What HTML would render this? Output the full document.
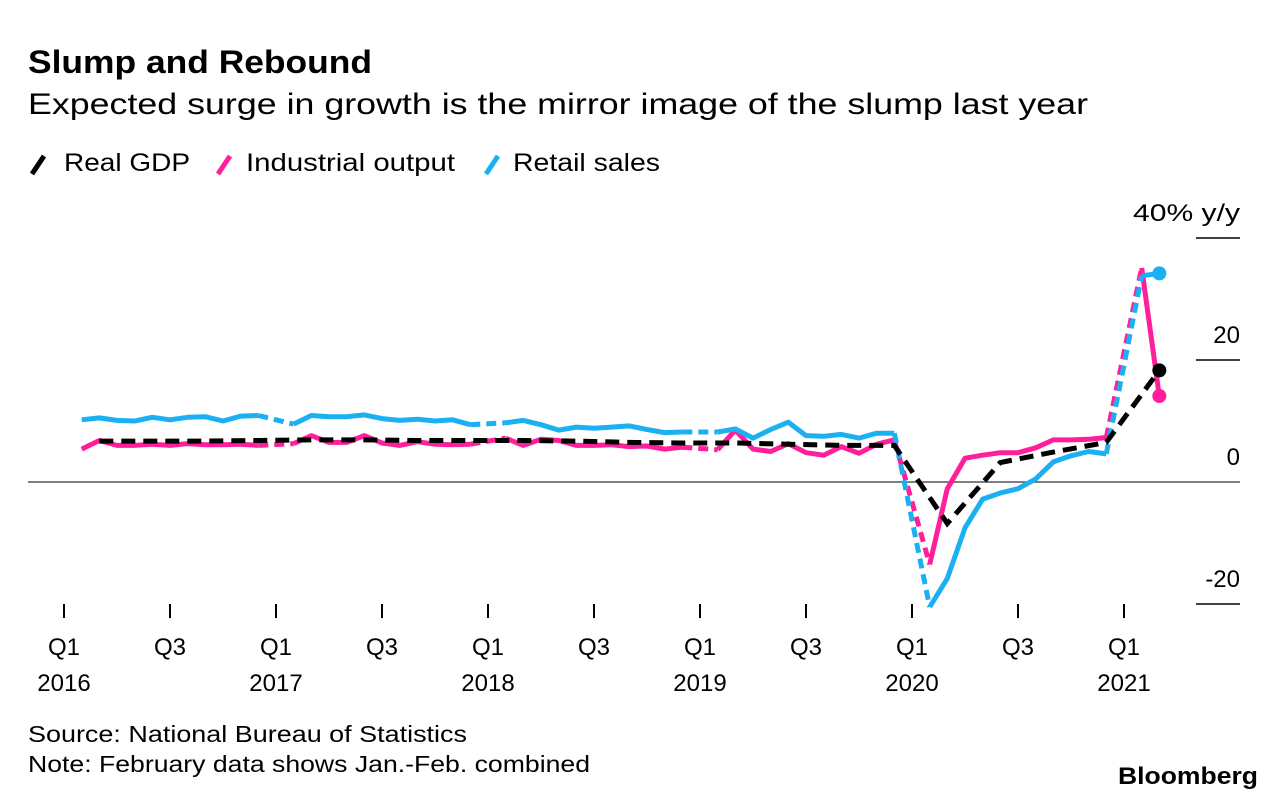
<!DOCTYPE html>
<html><head><meta charset="utf-8"><style>
body{margin:0;background:#fff;width:1286px;height:802px;overflow:hidden;font-family:"Liberation Sans",sans-serif;color:#000}
svg{position:absolute;left:0;top:0}
</style></head><body>
<svg width="1286" height="802">
<text x="28" y="73" font-size="32" font-weight="bold" textLength="344" lengthAdjust="spacingAndGlyphs">Slump and Rebound</text>
<text x="28" y="114" font-size="30" textLength="1060" lengthAdjust="spacingAndGlyphs">Expected surge in growth is the mirror image of the slump last year</text>
<g font-size="25">
<line x1="32" y1="174" x2="44" y2="156" stroke="#000" stroke-width="5"/>
<text x="64" y="171" textLength="126" lengthAdjust="spacingAndGlyphs">Real GDP</text>
<line x1="218" y1="174" x2="230" y2="156" stroke="#ff1f9a" stroke-width="5"/>
<text x="246" y="171" textLength="209" lengthAdjust="spacingAndGlyphs">Industrial output</text>
<line x1="486" y1="174" x2="498" y2="156" stroke="#1ab0f2" stroke-width="5"/>
<text x="513" y="171" textLength="147" lengthAdjust="spacingAndGlyphs">Retail sales</text>
</g>
<g id="axes"></g>
<g id="series"></g>
<text x="28" y="742" font-size="23" textLength="439" lengthAdjust="spacingAndGlyphs">Source: National Bureau of Statistics</text>
<text x="28" y="772" font-size="23" textLength="562" lengthAdjust="spacingAndGlyphs">Note: February data shows Jan.-Feb. combined</text>
<text x="1118" y="784" font-size="24" font-weight="bold" textLength="140" lengthAdjust="spacingAndGlyphs">Bloomberg</text>
</svg>
<script>
const yTicks=[40,20,0,-20];
const yTickLabels=["40% y/y","20","0","-20"];
const xTickLabels=["Q1","Q3","Q1","Q3","Q1","Q3","Q1","Q3","Q1","Q3","Q1"];
const xYearLabels=["2016","","2017","","2018","","2019","","2020","","2021"];
// monthly, index 0 = Jan 2016; null = no January release
const industrial=[null,5.4,6.8,6.0,6.0,6.2,6.0,6.3,6.1,6.1,6.2,6.0,
 null,6.3,7.6,6.5,6.5,7.6,6.4,6.0,6.6,6.2,6.1,6.2,
 null,7.2,6.0,7.0,6.8,6.0,6.0,6.1,5.8,5.9,5.4,5.7,
 null,5.3,8.5,5.4,5.0,6.3,4.8,4.4,5.8,4.7,6.2,6.9,
 null,-13.5,-1.1,3.9,4.4,4.8,4.8,5.6,6.9,6.9,7.0,7.3,
 null,35.1,14.1];
const retail=[null,10.2,10.5,10.1,10.0,10.6,10.2,10.6,10.7,10.0,10.8,10.9,
 null,9.5,10.9,10.7,10.7,11.0,10.4,10.1,10.3,10.0,10.2,9.4,
 null,9.7,10.1,9.4,8.5,9.0,8.8,9.0,9.2,8.6,8.1,8.2,
 null,8.2,8.7,7.2,8.6,9.8,7.6,7.5,7.8,7.2,8.0,8.0,
 null,-20.5,-15.8,-7.5,-2.8,-1.8,-1.1,0.5,3.3,4.3,5.0,4.6,
 null,33.8,34.2];
// quarterly, plotted at quarter-end month
const gdp=[6.7,6.7,6.7,6.8,6.9,6.9,6.8,6.8,6.8,6.7,6.5,6.4,6.4,6.2,6.0,6.0,-6.8,3.2,4.9,6.5,18.3];
const NS="http://www.w3.org/2000/svg";
const X=m=>64+m*212/12;
const Y=v=>482-v*6.1;
function mk(tag,attrs,parent){const e=document.createElementNS(NS,tag);for(const k in attrs)e.setAttribute(k,attrs[k]);parent.appendChild(e);return e;}
const ax=document.getElementById('axes'), se=document.getElementById('series');
yTicks.forEach((t,i)=>{
  if(t===0){const l=mk('line',{x1:28,x2:1240,y1:Y(0),y2:Y(0),stroke:'#555','stroke-width':1.5},ax);
    
    }
  else{const l=mk('line',{x1:1196,x2:1240,y1:Y(t),y2:Y(t),stroke:'#000','stroke-width':1.5},ax);
    
    }
  const tx=mk('text',{x:1240,y:Y(t)-17,'font-size':24,'text-anchor':'end'},ax);tx.textContent=yTickLabels[i];
  if(i===0){tx.setAttribute('textLength','107');tx.setAttribute('lengthAdjust','spacingAndGlyphs');}
  
  
});
xTickLabels.forEach((lab,i)=>{
  const x=X(i*6);
  const l=mk('line',{x1:x,x2:x,y1:604,y2:618,stroke:'#000','stroke-width':2},ax);
  
  
  const t=mk('text',{x:x,y:655,'font-size':24,'text-anchor':'middle'},ax);t.textContent=lab;
  
  
  if(xYearLabels[i]){const y=mk('text',{x:x,y:691,'font-size':24,'text-anchor':'middle'},ax);y.textContent=xYearLabels[i];
    
    }
});
function monthly(arr,color,name){
  let solid="",dashed="",prev=null;
  arr.forEach((v,i)=>{
    if(v===null)return;
    const p=X(i).toFixed(1)+","+Y(v).toFixed(1);
    if(prev!==null&&i-prev.i===1){solid+=" L"+p;}
    else{ if(prev!==null) dashed+=" M"+prev.p+" L"+p; solid+=" M"+p;}
    prev={i,p};
  });
  const d=mk('path',{d:dashed,fill:'none',stroke:color,'stroke-width':5,'stroke-dasharray':'10,6'},se);
  
  
  const s=mk('path',{d:solid,fill:'none',stroke:color,'stroke-width':5,'stroke-linejoin':'round'},se);
  
  
  const li=arr.length-1;
  const c=mk('circle',{cx:X(li),cy:Y(arr[li]),r:7,fill:color},se);
  
  
}
monthly(industrial,'#ff1f9a','industrial-output');
monthly(retail,'#1ab0f2','retail-sales');
(function(){
  const d=gdp.map((v,i)=>(i?"L":"M")+X(i*3+2).toFixed(1)+","+Y(v).toFixed(1)).join(" ");
  const p=mk('path',{d:d,fill:'none',stroke:'#000','stroke-width':5,'stroke-dasharray':'14,8'},se);
  
  
  const li=gdp.length-1;
  const c=mk('circle',{cx:X(li*3+2),cy:Y(gdp[li]),r:7,fill:'#000'},se);
  
  
})();
</script>
</body></html>
